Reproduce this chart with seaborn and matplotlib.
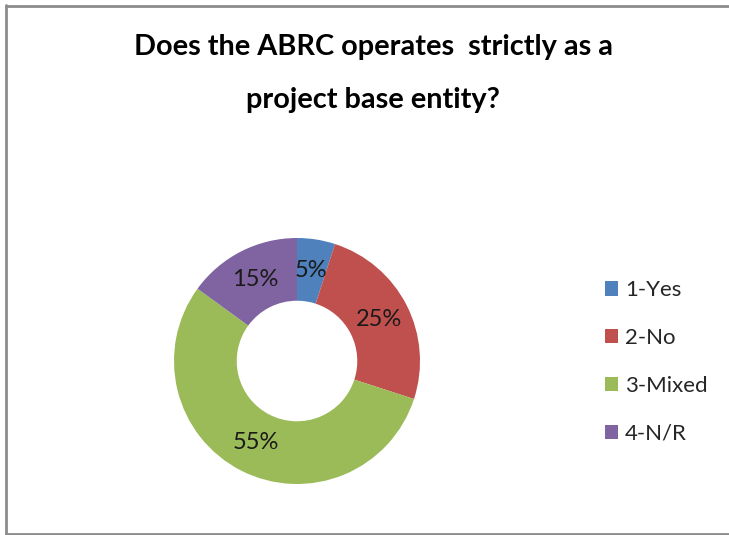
import matplotlib
matplotlib.use("Agg")
import matplotlib.pyplot as plt
from matplotlib.lines import Line2D
from matplotlib.patches import Patch
import numpy as np
import seaborn as sns

categories = ["1-Yes", "2-No", "3-Mixed", "4-N/R"]
shares = [5, 25, 55, 15]
pct_labels = ["5%", "25%", "55%", "15%"]
title_lines = ["Does the ABRC operates  strictly as a", "project base entity?"]

sns.set_theme(style="white")
plt.rcParams["font.family"] = ["Lato", "DejaVu Sans"]

colors = ["#4F81BD", "#C0504D", "#9BBB59", "#8064A2"]

W, H = 729, 535
fig = plt.figure(figsize=(W / 100, H / 100), dpi=100)
fig.patch.set_facecolor("white")

# donut: centre (297, 361) px, outer radius ~123 px
cx, cy, r = 297, 361, 123
ax = fig.add_axes([(cx - r) / W, 1 - (cy + r) / H, 2 * r / W, 2 * r / H])
wedges, _ = ax.pie(shares, colors=colors, startangle=90, counterclock=False,
                   radius=1.0, wedgeprops=dict(width=0.51, linewidth=0))
total = sum(shares)
start = 90.0
for lab, v in zip(pct_labels, shares):
    mid = np.deg2rad(start - 360 * v / total / 2)
    start -= 360 * v / total
    ax.text(0.745 * np.cos(mid), 0.745 * np.sin(mid), lab, ha="center", va="center",
            fontsize=17, color="#1a1a1a")
ax.set_xlim(-1, 1)
ax.set_ylim(-1, 1)
ax.set_aspect("equal")
ax.axis("off")

# title
fig.text(373 / W, 1 - 47 / H, title_lines[0], ha="center", va="center",
         fontsize=20.8, fontweight="bold", color="black")
fig.text(373 / W, 1 - 100 / H, title_lines[1], ha="center", va="center",
         fontsize=20.8, fontweight="bold", color="black")

# legend
handles = [Patch(facecolor=c, edgecolor="none") for c in colors]
leg = fig.legend(handles, categories, loc="center left", bbox_to_anchor=(585 / W, 1 - 362 / H),
                 frameon=False, fontsize=16, handlelength=0.6, handleheight=0.6,
                 handletextpad=0.3, labelspacing=1.25)

# outer frame
frame_color = "#8c8c8c"
fig.add_artist(Line2D([5.5 / W, 1], [1 - 5.5 / H] * 2, transform=fig.transFigure,
                      color=frame_color, lw=2))
fig.add_artist(Line2D([5.5 / W] * 2, [1 - 5 / H, 1 - 534 / H], transform=fig.transFigure,
                      color=frame_color, lw=2))
fig.add_artist(Line2D([5.5 / W, 1], [1 - 533.5 / H] * 2, transform=fig.transFigure,
                      color=frame_color, lw=2))

fig.savefig("out.png", dpi=100, facecolor="white")
